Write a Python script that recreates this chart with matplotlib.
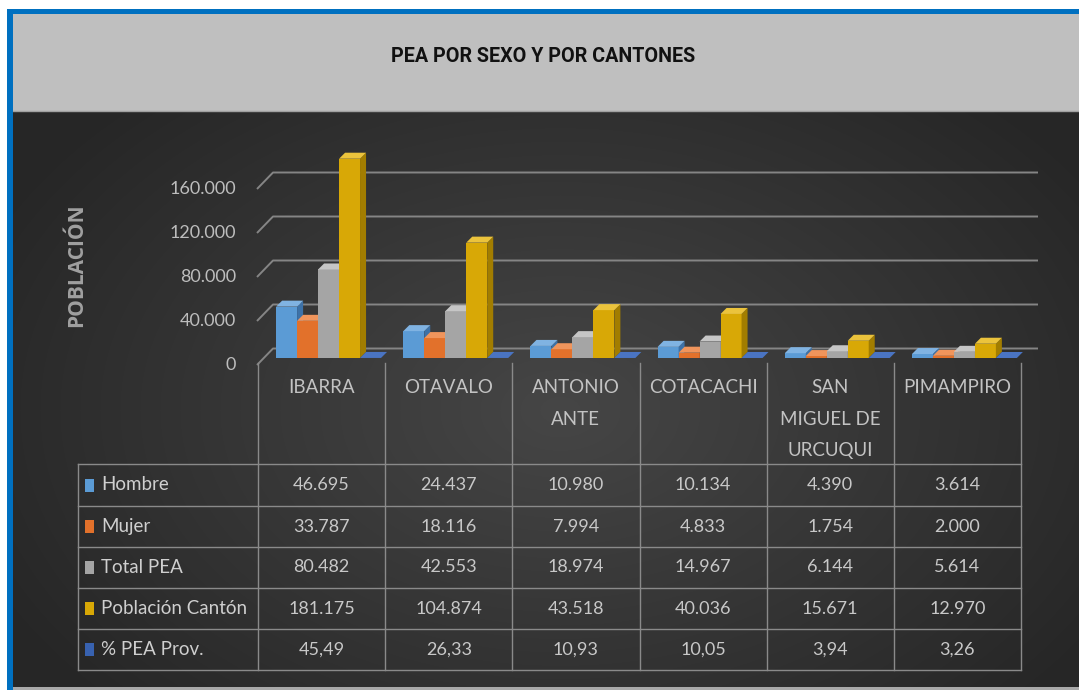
import numpy as np
import matplotlib
matplotlib.use("Agg")
import matplotlib.pyplot as plt
from matplotlib import font_manager
from matplotlib.patches import Rectangle, Polygon
from matplotlib.transforms import blended_transform_factory, ScaledTranslation

# ---------------- data ----------------
title = "PEA POR SEXO Y POR CANTONES"
axis_label = "POBLACIÓN"
categories = ["IBARRA", "OTAVALO", "ANTONIO\nANTE", "COTACACHI",
              "SAN\nMIGUEL DE\nURCUQUI", "PIMAMPIRO"]
series_names = ["Hombre", "Mujer", "Total PEA", "Población Cantón", "% PEA Prov."]
hombre = [46695, 24437, 10980, 10134, 4390, 3614]
mujer = [33787, 18116, 7994, 4833, 1754, 2000]
total_pea = [80482, 42553, 18974, 14967, 6144, 5614]
poblacion = [181175, 104874, 43518, 40036, 15671, 12970]
pea_prov = [45.49, 26.33, 10.93, 10.05, 3.94, 3.26]
y_ticks = [0, 40000, 80000, 120000, 160000]

series_values = [hombre, mujer, total_pea, poblacion, pea_prov]


def fmt_int(v):
    return f"{v:,}".replace(",", ".")


def fmt_pct(v):
    return f"{v:.2f}".replace(".", ",")


series_fmt = [fmt_int, fmt_int, fmt_int, fmt_int, fmt_pct]

# ---------------- styles ----------------
front_cols = ["#5b9bd5", "#e2712b", "#a5a5a5", "#d8a806", "#3862b0"]
top_cols = ["#80b3e2", "#f0955c", "#c6c6c6", "#ebc33c", "#4a74c2"]
side_cols = ["#3d72a8", "#a9521d", "#797979", "#a27d00", "#264786"]


def has_font(name):
    try:
        font_manager.findfont(font_manager.FontProperties(family=name),
                              fallback_to_default=False)
        return True
    except Exception:
        return False


body_font = "Lato" if has_font("Lato") else "DejaVu Sans"
label_font = "Open Sans" if has_font("Open Sans") else "DejaVu Sans"
title_font = None
for cand in ["Liberation Sans Narrow", "DejaVu Sans Condensed", "Roboto"]:
    if has_font(cand):
        title_font = cand
        break
if title_font is None:
    title_font = "DejaVu Sans"

W, H = 1079, 690
fig = plt.figure(figsize=(W / 100, H / 100), dpi=100)
fig.patch.set_facecolor("white")

bg = fig.add_axes([0, 0, 1, 1], zorder=0)
bg.set_xlim(0, W)
bg.set_ylim(H, 0)
bg.axis("off")

# dark gradient background
gx0, gx1, gy0, gy1 = 13, W, 111, 687
gh, gw = gy1 - gy0, gx1 - gx0
yy, xx = np.mgrid[0:gh, 0:gw]
dx = (xx - (560 - gx0)) / 640.0
dy = (yy - (410 - gy0)) / 430.0
r = np.sqrt(dx ** 2 + dy ** 2)
val = (0x26 + (0x46 - 0x26) * np.clip(1 - r, 0, 1) ** 1.0) / 255.0
img = np.dstack([val, val, val])
bg.imshow(img, extent=(gx0, gx1, gy1, gy0), aspect="auto", zorder=0,
          interpolation="bilinear")
bg.set_xlim(0, W)
bg.set_ylim(H, 0)

# bottom light strip
bg.add_patch(Rectangle((gx0, gy1), W - gx0, H - gy1, color="#a9a9a9", zorder=1, lw=0))
# header
bg.add_patch(Rectangle((13, 14), W - 13, 97, color="#bfbfbf", zorder=1, lw=0))
bg.plot([13, W], [110.5, 110.5], color="#a0a0a0", lw=1, zorder=2)
# blue frame
bg.add_patch(Rectangle((7, 9), W - 7, 5, color="#0070c0", zorder=3, lw=0))
bg.add_patch(Rectangle((7, 9), 6, H - 9, color="#0070c0", zorder=3, lw=0))

bg.text(543, 57, title, ha="center", va="center", fontsize=14.2,
        fontweight="bold", family=[title_font, "DejaVu Sans"], color="#111111", zorder=4)

bg.text(77, 265, axis_label, ha="center", va="center", rotation=90,
        fontsize=15, fontweight="bold", family=[label_font, "DejaVu Sans"],
        color="#a0a0a0", zorder=4)

# ---------------- chart axes ----------------
ax_left_px, ax_right_px = 258, 1021
ax_bottom_px, ax_top_px = 358, 138
y_max = 200000
ax = fig.add_axes([ax_left_px / W, (H - ax_bottom_px) / H,
                   (ax_right_px - ax_left_px) / W, (ax_bottom_px - ax_top_px) / H],
                  zorder=2)
n = len(categories)
ax.set_xlim(-0.5, n - 0.5)
ax.set_ylim(0, y_max)
ax.set_axis_off()

px_per_x = (ax_right_px - ax_left_px) / n
px_per_y = (ax_bottom_px - ax_top_px) / y_max


def dxu(px):
    return px / px_per_x


def dyu(px):
    return px / px_per_y


# gridlines on back wall with oblique left edge
x_right_data = -0.5 + dxu(1038 - ax_left_px)
for v in y_ticks:
    xs = [-0.5 - dxu(1), -0.5 + dxu(15), x_right_data]
    ys = [v - dyu(7), v + dyu(9.5), v + dyu(9.5)]
    ax.plot(xs, ys, color="#858585", lw=1.4, zorder=1, clip_on=False,
            solid_capstyle="butt")

# tick labels on front plane
tick_tr = blended_transform_factory(bg.transData, ax.transData) + \
    ScaledTranslation(0, -0.07, fig.dpi_scale_trans)
for v in y_ticks:
    ax.text(236, v, fmt_int(v), transform=tick_tr, ha="right", va="center",
            fontsize=13, family=[body_font, "DejaVu Sans"], color="#bdbdbd",
            clip_on=False)

# 3D-style bars
bw = 0.165
group_shift = 0.055
ddx, ddy = dxu(6), dyu(6)
x_idx = np.arange(n)
for j, vals in enumerate(series_values):
    xpos = x_idx + group_shift + (j - 2) * bw
    zf = 3 + 2 * j
    ax.bar(xpos, vals, width=bw, color=front_cols[j], linewidth=0, zorder=zf)
    for xc, hv in zip(xpos, vals):
        xl, xr = xc - bw / 2, xc + bw / 2
        side = Polygon([(xr, 0), (xr + ddx, ddy), (xr + ddx, hv + ddy), (xr, hv)],
                       closed=True, facecolor=side_cols[j], lw=0, zorder=zf + 0.5,
                       clip_on=False)
        top = Polygon([(xl, hv), (xr, hv), (xr + ddx, hv + ddy), (xl + ddx, hv + ddy)],
                      closed=True, facecolor=top_cols[j], lw=0, zorder=zf + 0.5,
                      clip_on=False)
        ax.add_patch(side)
        ax.add_patch(top)

# ---------------- data table ----------------
col_tr = blended_transform_factory(ax.transData, bg.transData)
row_edges = [464, 506, 547, 588, 629, 670]
line_col = "#8a8a8a"

for k in range(n + 1):
    ax.plot([k - 0.5, k - 0.5], [363, row_edges[-1]], transform=col_tr,
            color=line_col, lw=1, clip_on=False, zorder=2)
bg.plot([78, 78], [row_edges[0], row_edges[-1]], color=line_col, lw=1, zorder=2)
for yv in row_edges:
    bg.plot([78, ax_right_px], [yv, yv], color=line_col, lw=1, zorder=2)

for i, cat in enumerate(categories):
    ax.text(i, 379, cat, transform=col_tr, ha="center", va="top",
            fontsize=13.5, family=[body_font, "DejaVu Sans"], color="#c3c3c3",
            linespacing=2.05, clip_on=False)

for r_i, (name, vals, fmt) in enumerate(zip(series_names, series_values, series_fmt)):
    yc = (row_edges[r_i] + row_edges[r_i + 1]) / 2
    bg.add_patch(Rectangle((85, yc - 6.5), 9, 13, color=front_cols[r_i], lw=0, zorder=3))
    bg.text(101, yc, name, ha="left", va="center", fontsize=13.5,
            family=[body_font, "DejaVu Sans"], color="#cfcfcf", zorder=3)
    for i, v in enumerate(vals):
        ax.text(i, yc, fmt(v), transform=col_tr, ha="center", va="center",
                fontsize=13, family=[body_font, "DejaVu Sans"], color="#c8c8c8",
                clip_on=False)

fig.savefig("out.png", dpi=100, facecolor=fig.get_facecolor())
